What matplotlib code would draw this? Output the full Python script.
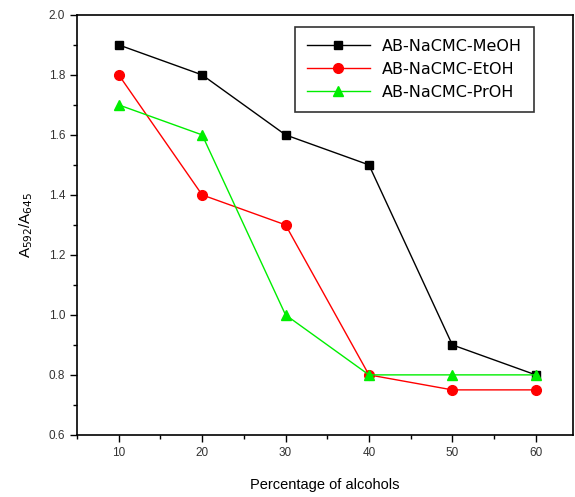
import matplotlib
matplotlib.use("Agg")
import matplotlib.pyplot as plt
from matplotlib.ticker import MultipleLocator

alcohol_pct = [10, 20, 30, 40, 50, 60]
meoh = [1.9, 1.8, 1.6, 1.5, 0.9, 0.8]
etoh = [1.8, 1.4, 1.3, 0.8, 0.75, 0.75]
proh = [1.7, 1.6, 1.0, 0.8, 0.8, 0.8]
labels = ["AB-NaCMC-MeOH", "AB-NaCMC-EtOH", "AB-NaCMC-PrOH"]

plt.rcParams["font.family"] = ["Liberation Sans", "DejaVu Sans"]

fig = plt.figure(figsize=(5.75, 4.97), dpi=100)
ax = fig.add_axes([0.134, 0.125, 0.863, 0.845])

ax.plot(alcohol_pct, meoh, color="black", marker="s", markersize=6, linewidth=1.0, label=labels[0])
ax.plot(alcohol_pct, etoh, color="#ff0000", marker="o", markersize=7, linewidth=1.0, label=labels[1])
ax.plot(alcohol_pct, proh, color="#00ee00", marker="^", markersize=7, linewidth=1.0, label=labels[2])

ax.set_xlim(5, 64.5)
ax.set_ylim(0.6, 2.0)
ax.xaxis.set_major_locator(MultipleLocator(10))
ax.xaxis.set_minor_locator(MultipleLocator(5))
ax.yaxis.set_major_locator(MultipleLocator(0.2))
ax.yaxis.set_minor_locator(MultipleLocator(0.1))
ax.yaxis.set_major_formatter(plt.FuncFormatter(lambda v, p: f"{v:.1f}"))
ax.tick_params(which="both", direction="out", labelsize=8.5, labelcolor="#333333", width=1.0)
ax.tick_params(which="major", length=5)
ax.tick_params(which="minor", length=3)
for s in ax.spines.values():
    s.set_linewidth(1.2)

ax.set_xlabel("Percentage of alcohols", fontsize=10.5, labelpad=14)
ax.set_ylabel(r"A$_{592}$/A$_{645}$", fontsize=11, labelpad=10)

leg = ax.legend(loc="upper right", bbox_to_anchor=(0.92, 0.972),
                prop={"family": "DejaVu Sans", "size": 11.5},
                fancybox=False, edgecolor="black", handlelength=4.0, borderpad=0.75,
                labelspacing=0.5, handletextpad=0.7, borderaxespad=0)
leg.get_frame().set_linewidth(1.2)

fig.savefig("out.png", dpi=100)
